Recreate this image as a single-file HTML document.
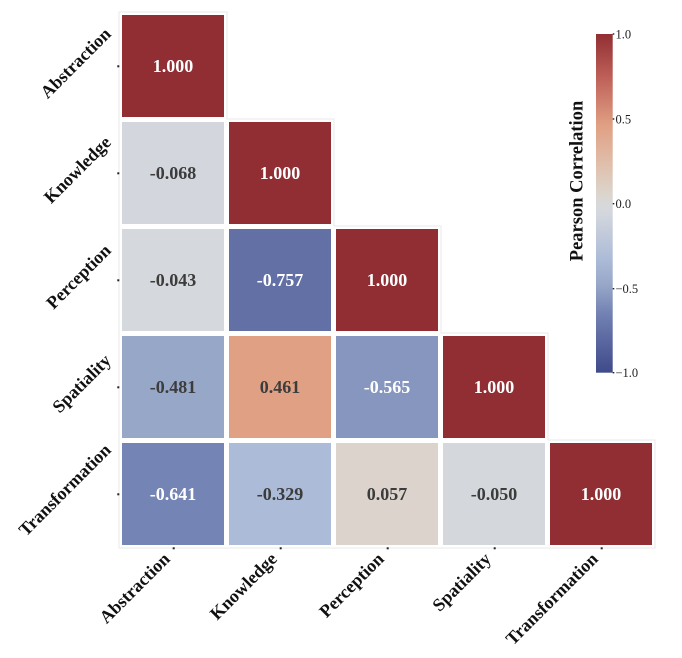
<!DOCTYPE html>
<html>
<head>
<meta charset="utf-8">
<style>
  html, body { margin:0; padding:0; background:#ffffff; }
  svg { display:block; }
  text { font-family: "Liberation Serif", "DejaVu Serif", serif; }
</style>
</head>
<body>
<svg width="682" height="658" viewBox="0 0 682 658" xmlns="http://www.w3.org/2000/svg">
  <defs>
    <linearGradient id="cb" x1="0" y1="0" x2="0" y2="1">
      <stop offset="0" stop-color="#912e33"/>
      <stop offset="0.125" stop-color="#bd5f57"/>
      <stop offset="0.27" stop-color="#e0a083"/>
      <stop offset="0.40" stop-color="#dfc3b1"/>
      <stop offset="0.47" stop-color="#dcd4cc"/>
      <stop offset="0.50" stop-color="#d8d8d9"/>
      <stop offset="0.53" stop-color="#d3d7dd"/>
      <stop offset="0.665" stop-color="#acbbd7"/>
      <stop offset="0.74" stop-color="#97a7c8"/>
      <stop offset="0.78" stop-color="#8796be"/>
      <stop offset="0.82" stop-color="#7484b4"/>
      <stop offset="0.878" stop-color="#6370a6"/>
      <stop offset="1" stop-color="#3f4a8a"/>
    </linearGradient>
  </defs>

  <!-- faint outer outlines -->
  <g fill="#e9e9ea">
    <rect x="118.5" y="11.5" width="109" height="109"/>
    <rect x="118.5" y="118.5" width="109" height="109"/><rect x="225.5" y="118.5" width="109" height="109"/>
    <rect x="118.5" y="225.5" width="109" height="109"/><rect x="225.5" y="225.5" width="109" height="109"/><rect x="332.5" y="225.5" width="109" height="109"/>
    <rect x="118.5" y="332.5" width="109" height="109"/><rect x="225.5" y="332.5" width="109" height="109"/><rect x="332.5" y="332.5" width="109" height="109"/><rect x="439.5" y="332.5" width="109" height="109"/>
    <rect x="118.5" y="439.5" width="109" height="109"/><rect x="225.5" y="439.5" width="109" height="109"/><rect x="332.5" y="439.5" width="109" height="109"/><rect x="439.5" y="439.5" width="109" height="109"/><rect x="546.5" y="439.5" width="109" height="109"/>
  </g>
  <g fill="#ffffff">
    <rect x="119.5" y="12.5" width="107" height="107"/>
    <rect x="119.5" y="119.5" width="107" height="107"/><rect x="226.5" y="119.5" width="107" height="107"/>
    <rect x="119.5" y="226.5" width="107" height="107"/><rect x="226.5" y="226.5" width="107" height="107"/><rect x="333.5" y="226.5" width="107" height="107"/>
    <rect x="119.5" y="333.5" width="107" height="107"/><rect x="226.5" y="333.5" width="107" height="107"/><rect x="333.5" y="333.5" width="107" height="107"/><rect x="440.5" y="333.5" width="107" height="107"/>
    <rect x="119.5" y="440.5" width="107" height="107"/><rect x="226.5" y="440.5" width="107" height="107"/><rect x="333.5" y="440.5" width="107" height="107"/><rect x="440.5" y="440.5" width="107" height="107"/><rect x="547.5" y="440.5" width="107" height="107"/>
  </g>

  <!-- cells -->
  <rect x="122" y="15" width="102" height="102" fill="#912e33"/>

  <rect x="122" y="122" width="102" height="102" fill="#d3d7dd"/>
  <rect x="229" y="122" width="102" height="102" fill="#912e33"/>

  <rect x="122" y="229" width="102" height="102" fill="#d5d8dc"/>
  <rect x="229" y="229" width="102" height="102" fill="#6370a6"/>
  <rect x="336" y="229" width="102" height="102" fill="#912e33"/>

  <rect x="122" y="336" width="102" height="102" fill="#97a7c8"/>
  <rect x="229" y="336" width="102" height="102" fill="#e0a083"/>
  <rect x="336" y="336" width="102" height="102" fill="#8796be"/>
  <rect x="443" y="336" width="102" height="102" fill="#912e33"/>

  <rect x="122" y="443" width="102" height="102" fill="#7484b4"/>
  <rect x="229" y="443" width="102" height="102" fill="#acbbd7"/>
  <rect x="336" y="443" width="102" height="102" fill="#dcd4cc"/>
  <rect x="443" y="443" width="102" height="102" fill="#d4d8dc"/>
  <rect x="550" y="443" width="102" height="102" fill="#912e33"/>

  <!-- cell values -->
  <g font-size="18" font-weight="bold" text-anchor="middle">
    <text x="173" y="72" fill="#ffffff">1.000</text>

    <text x="173" y="179" fill="#3c3c3c">-0.068</text>
    <text x="280" y="179" fill="#ffffff">1.000</text>

    <text x="173" y="286" fill="#3c3c3c">-0.043</text>
    <text x="280" y="286" fill="#ffffff">-0.757</text>
    <text x="387" y="286" fill="#ffffff">1.000</text>

    <text x="173" y="393" fill="#3c3c3c">-0.481</text>
    <text x="280" y="393" fill="#3c3c3c">0.461</text>
    <text x="387" y="393" fill="#ffffff">-0.565</text>
    <text x="494" y="393" fill="#ffffff">1.000</text>

    <text x="173" y="500" fill="#ffffff">-0.641</text>
    <text x="280" y="500" fill="#3c3c3c">-0.329</text>
    <text x="387" y="500" fill="#3c3c3c">0.057</text>
    <text x="494" y="500" fill="#3c3c3c">-0.050</text>
    <text x="601" y="500" fill="#ffffff">1.000</text>
  </g>

  <!-- tick dots -->
  <g fill="#222">
    <rect x="117.3" y="65.3" width="2" height="2"/>
    <rect x="117.3" y="172.3" width="2" height="2"/>
    <rect x="117.3" y="279.3" width="2" height="2"/>
    <rect x="117.3" y="386.3" width="2" height="2"/>
    <rect x="117.3" y="493.3" width="2" height="2"/>

    <rect x="172.7" y="547.3" width="2" height="2"/>
    <rect x="279.7" y="547.3" width="2" height="2"/>
    <rect x="386.7" y="547.3" width="2" height="2"/>
    <rect x="493.7" y="547.3" width="2" height="2"/>
    <rect x="600.7" y="547.3" width="2" height="2"/>
  </g>

  <!-- y labels -->
  <g font-size="18" font-weight="bold" text-anchor="end" fill="#111">
    <text transform="translate(112,35) rotate(-45)">Abstraction</text>
    <text transform="translate(112,143.5) rotate(-45)">Knowledge</text>
    <text transform="translate(112,251.5) rotate(-45)">Perception</text>
    <text transform="translate(112,361.5) rotate(-45)">Spatiality</text>
    <text transform="translate(112,451) rotate(-45)">Transformation</text>
  </g>

  <!-- x labels -->
  <g font-size="18" font-weight="bold" text-anchor="end" fill="#111">
    <text transform="translate(171,560) rotate(-45)">Abstraction</text>
    <text transform="translate(278,560) rotate(-45)">Knowledge</text>
    <text transform="translate(385,560) rotate(-45)">Perception</text>
    <text transform="translate(492,560) rotate(-45)">Spatiality</text>
    <text transform="translate(599,560) rotate(-45)">Transformation</text>
  </g>

  <!-- colorbar -->
  <rect x="596" y="34" width="16.7" height="338.7" fill="url(#cb)"/>
  <g fill="#222">
    <rect x="612.7" y="33.3" width="1.6" height="1.4"/>
    <rect x="612.7" y="118.3" width="1.6" height="1.4"/>
    <rect x="612.7" y="203" width="1.6" height="1.4"/>
    <rect x="612.7" y="288" width="1.6" height="1.4"/>
    <rect x="612.7" y="372" width="1.6" height="1.4"/>
  </g>
  <g font-size="12.5" fill="#222">
    <text x="615.5" y="38.5">1.0</text>
    <text x="615.5" y="123.3">0.5</text>
    <text x="615.5" y="208">0.0</text>
    <text x="615.5" y="292.8">−0.5</text>
    <text x="615.5" y="377">−1.0</text>
  </g>
  <text transform="translate(582.5,181) rotate(-90)" font-size="18.5" font-weight="bold" text-anchor="middle" fill="#111">Pearson Correlation</text>
</svg>
</body>
</html>
